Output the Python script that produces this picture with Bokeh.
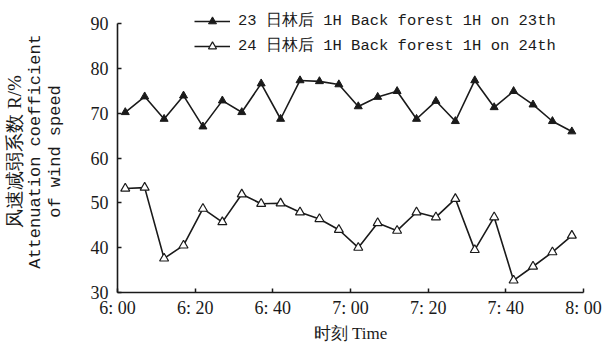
from bokeh.plotting import figure
from bokeh.models import Legend, LegendItem, FixedTicker, Range1d, LinearAxis
from bokeh.embed import file_html
from bokeh.resources import INLINE

# minutes after 6:00
minutes = [2, 7, 12, 17, 22, 27, 32, 37, 42, 47, 52, 57,
           62, 67, 72, 77, 82, 87, 92, 97, 102, 107, 112, 117]
day23 = [70.2, 73.7, 68.7, 73.9, 67.0, 72.8, 70.2, 76.6, 68.7, 77.3, 77.1, 76.4,
         71.5, 73.6, 74.9, 68.7, 72.7, 68.2, 77.3, 71.3, 74.9, 71.9, 68.2, 65.9]
day24 = [53.2, 53.4, 37.6, 40.5, 48.7, 45.7, 51.9, 49.8, 49.9, 47.9, 46.4, 44.0,
         40.0, 45.5, 43.8, 47.9, 46.8, 50.9, 39.5, 46.8, 32.7, 35.8, 39.0, 42.7]
x_ticks = [0, 20, 40, 60, 80, 100, 120]
x_tick_labels = ["6: 00", "6: 20", "6: 40", "7: 00", "7: 20", "7: 40", "8: 00"]
y_ticks = [30, 40, 50, 60, 70, 80, 90]
legend_labels = ["23 日林后 1H Back forest 1H on 23th",
                 "24 日林后 1H Back forest 1H on 24th"]
y_label_lines = ["风速减弱系数 R/%", "Attenuation coefficient", "of wind speed"]
x_label = "时刻 Time"

SERIF = "Liberation Serif"
MONO = "Liberation Mono"
INK = "#1a1a1a"

p = figure(width=602, height=346, output_backend="svg", toolbar_location=None,
           x_range=Range1d(0, 120), y_range=Range1d(30, 92.9),
           min_border_left=116, min_border_right=19, min_border_top=10,
           min_border_bottom=54)
p.outline_line_color = None
p.grid.grid_line_color = None
p.background_fill_color = "white"
p.border_fill_color = "white"

for ax in (p.xaxis[0], p.yaxis[0]):
    ax.axis_line_color = INK
    ax.axis_line_width = 1.6
    ax.major_tick_line_color = INK
    ax.major_tick_line_width = 1.5
    ax.major_tick_in = 4
    ax.major_tick_out = 0
    ax.minor_tick_line_color = None
    ax.major_label_text_font = SERIF
    ax.major_label_text_font_size = "18px"
    ax.major_label_text_color = INK
    ax.axis_label_text_font_style = "normal"
    ax.axis_label_text_color = INK

p.xaxis.ticker = FixedTicker(ticks=x_ticks)
p.xaxis.major_label_overrides = {t: l for t, l in zip(x_ticks, x_tick_labels)}
p.xaxis.major_label_standoff = 5
p.xaxis.axis_label = x_label
p.xaxis.axis_label_text_font = SERIF
p.xaxis.axis_label_text_font_size = "17px"
p.xaxis.axis_label_standoff = 3

p.yaxis.ticker = FixedTicker(ticks=y_ticks)
p.yaxis.bounds = (30, 90)
p.yaxis.major_label_standoff = 9
p.yaxis.axis_label = y_label_lines[2]
p.yaxis.axis_label_text_font = MONO
p.yaxis.axis_label_text_font_size = "17px"
p.yaxis.axis_label_standoff = 23

# further y-title lines as label-only axes stacked to the left
for txt, font, size, standoff in [(y_label_lines[1], MONO, "17px", -2),
                                  (y_label_lines[0], SERIF, "19px", -2)]:
    extra = LinearAxis(axis_label=txt, ticker=FixedTicker(ticks=[]),
                       axis_line_color=None, major_tick_line_color=None,
                       minor_tick_line_color=None,
                       major_label_text_font_size="0px",
                       axis_label_text_font=font, axis_label_text_font_size=size,
                       axis_label_text_font_style="normal",
                       axis_label_text_color=INK, axis_label_standoff=standoff)
    p.add_layout(extra, "left")

r1 = p.line(minutes, day23, line_color=INK, line_width=1.6)
m1 = p.scatter(minutes, day23, marker="triangle", size=8, fill_color=INK,
               line_color=INK, line_width=1)
r2 = p.line(minutes, day24, line_color=INK, line_width=1.6)
m2 = p.scatter(minutes, day24, marker="triangle", size=9, fill_color="white",
               line_color=INK, line_width=1.2)

legend = Legend(items=[LegendItem(label=legend_labels[0], renderers=[r1, m1]),
                       LegendItem(label=legend_labels[1], renderers=[r2, m2])],
                location=(77, 236), orientation="vertical",
                border_line_color=None, background_fill_alpha=0,
                label_text_font=MONO, label_text_font_size="15.5px",
                label_text_color=INK, glyph_width=36, glyph_height=20,
                label_height=20, spacing=4, padding=0, margin=0,
                label_standoff=8)
p.add_layout(legend)

open("out.html", "w").write(file_html(p, INLINE))
